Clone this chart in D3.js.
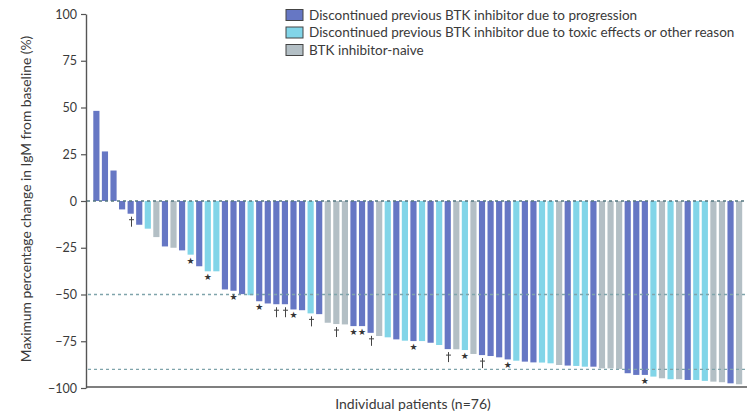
<!DOCTYPE html>
<head>
  <meta charset="utf-8">
  <script src="https://d3js.org/d3.v7.min.js"></script>
  <style>
    body { margin:0; background:#fff; }
    text { font-family: Lato, "Open Sans", sans-serif; fill:#3a3a3a; }
  </style>
</head>

<body>
  <div class="waterfall"></div>
  <script>

  // max % change in IgM, one entry per patient, sorted as in the figure
  var values = [48.2, 26.5, 16.3, -4.5, -6.8, -12.7, -14.8, -19.3, -24.3, -25, -26.4, -28.7, -34.9, -37.6, -37.6, -47.3, -48, -49.8, -50.4,
    -53.6, -54.8, -55.2, -55.2, -58, -58.4, -60.1, -60.5, -65.1, -65.8, -66, -66.9, -66.9, -70.5, -72.2, -72.9, -74, -74.7, -74.9,
    -74.9, -75.8, -77, -79.2, -79.3, -79.7, -81.8, -82.4, -82.9, -83.6, -84.7, -85.4, -85.9, -86.3, -86.4, -86.8, -87.7, -88, -88.2, -88.6,
    -88.6, -89.5, -89.5, -89.8, -92.1, -93, -93, -93.9, -94.8, -95.3, -95.3, -95.7, -95.7, -96.2, -96.6, -96.9, -97.5, -98];

  // P = progression, T = toxic effects / other, N = BTK inhibitor-naive
  var groups = ['P','P','P','P','P','P','T','N','P','N','P','T','P','T','T','P','P','P','T',
    'P','P','P','P','P','P','T','P','N','N','N','P','P','P','N','T','P','T','P',
    'T','P','T','P','N','T','N','P','P','P','P','T','P','P','T','T','N','P','T','T',
    'P','N','N','N','P','P','P','T','N','T','N','P','T','T','N','N','P','N'];

  var categories = ['P', 'T', 'N'];
  var legendLabels = [
    'Discontinued previous BTK inhibitor due to progression',
    'Discontinued previous BTK inhibitor due to toxic effects or other reason',
    'BTK inhibitor-naive'
  ];
  var colors = ['#6677c4', '#82d5e8', '#b3bfc5'];

  // patients (1-based) flagged with * and †
  var starBars = [12, 14, 17, 20, 24, 31, 32, 38, 44, 49, 65];
  var daggerBars = [5, 22, 23, 26, 29, 33, 42, 46];

  var yTicks = [100, 75, 50, 25, 0, -25, -50, -75, -100];
  var refLines = [-50, -90];

  const width = 747, height = 411;

  const svg = d3.select('.waterfall')
    .append('svg')
      .attr('width', width)
      .attr('height', height);

  let xScale = d3.scaleBand()
    .domain(d3.range(values.length))
    .range([92.1, 743.4])
    .paddingInner(0.28)
    .paddingOuter(0.14);

  let yScale = d3.scaleLinear()
    .domain([-100, 100])
    .range([388, 14]);

  let color = d3.scaleOrdinal().domain(categories).range(colors);

  // bars
  svg.append('g')
    .selectAll('rect')
    .data(values)
    .enter()
    .append('rect')
      .attr('x', (d, i) => xScale(i))
      .attr('width', xScale.bandwidth())
      .attr('y', d => yScale(Math.max(0, d)))
      .attr('height', d => Math.abs(yScale(d) - yScale(0)))
      .style('fill', (d, i) => color(groups[i]));

  // dashed reference lines, drawn over the bars
  svg.append('line')
    .attr('x1', 87).attr('x2', 747)
    .attr('y1', yScale(0)).attr('y2', yScale(0))
    .style('stroke', '#557880')
    .style('stroke-width', 1.3)
    .style('stroke-dasharray', '3,3');

  svg.selectAll('.ref')
    .data(refLines)
    .enter()
    .append('line')
      .attr('class', 'ref')
      .attr('x1', 88).attr('x2', 747)
      .attr('y1', d => yScale(d)).attr('y2', d => yScale(d))
      .style('stroke', '#7fa4ab')
      .style('stroke-width', 1.3)
      .style('stroke-dasharray', '3,3');

  // footnote marks under the bars
  svg.selectAll('.star')
    .data(starBars)
    .enter()
    .append('text')
      .attr('class', 'star')
      .attr('x', d => xScale(d - 1) + xScale.bandwidth() / 2)
      .attr('y', d => yScale(values[d - 1]) + 9)
      .attr('text-anchor', 'middle')
      .style('font-family', 'DejaVu Sans')
      .style('font-size', '9px')
      .style('fill', '#333')
      .text('\u2605');

  // dagger drawn as a path (text glyph got colour fringes)
  function dagger(cx, top) {
    var p = d3.path();
    p.moveTo(cx, top);
    p.lineTo(cx, top + 10);
    p.moveTo(cx - 2.5, top + 3);
    p.lineTo(cx + 2.5, top + 3);
    return p.toString();
  }

  svg.selectAll('.dagger')
    .data(daggerBars)
    .enter()
    .append('path')
      .attr('class', 'dagger')
      .attr('d', d => dagger(Math.round(xScale(d - 1) + xScale.bandwidth() / 2) + 0.5, yScale(values[d - 1]) + 3))
      .style('fill', 'none')
      .style('stroke', '#444')
      .style('stroke-width', 1);

  // y axis
  let yAxis = svg.append('g')
    .attr('transform', 'translate(86,0)')
    .call(d3.axisLeft(yScale).tickValues(yTicks).tickSize(5).tickPadding(4).tickSizeOuter(0));
  yAxis.select('.domain').style('stroke', '#555').style('stroke-width', 1.4);
  yAxis.selectAll('.tick line').style('stroke', '#555').style('stroke-width', 1.2);
  yAxis.selectAll('.tick text')
    .style('font-size', '12.5px')
    .style('font-family', 'Lato, sans-serif')
    .style('fill', '#3a3a3a');

  // baseline of the x axis
  svg.append('line')
    .attr('x1', 86).attr('x2', 747)
    .attr('y1', 387).attr('y2', 387)
    .style('stroke', '#555')
    .style('stroke-width', 1.6);

  svg.append('text')
    .attr('x', 413)
    .attr('y', 409)
    .attr('text-anchor', 'middle')
    .style('font-size', '14px')
    .text('Individual patients (n=76)');

  svg.append('text')
    .attr('transform', 'translate(31,199) rotate(-90)')
    .attr('text-anchor', 'middle')
    .style('font-size', '13.8px')
    .text('Maximum percentage change in IgM from baseline (%)');

  // legend
  let legend = svg.append('g')
    .selectAll('g')
    .data(legendLabels)
    .enter()
    .append('g')
      .attr('transform', (d, i) => `translate(286,${15 + i * 17.5})`);

  legend.append('rect')
    .attr('x', 0).attr('y', -5.5)
    .attr('width', 17).attr('height', 11)
    .style('fill', (d, i) => colors[i])
    .style('stroke', '#444')
    .style('stroke-width', 1);

  legend.append('text')
    .attr('x', 23)
    .attr('y', 4.5)
    .style('font-size', '13.5px')
    .text(d => d);

  </script>
</body>
